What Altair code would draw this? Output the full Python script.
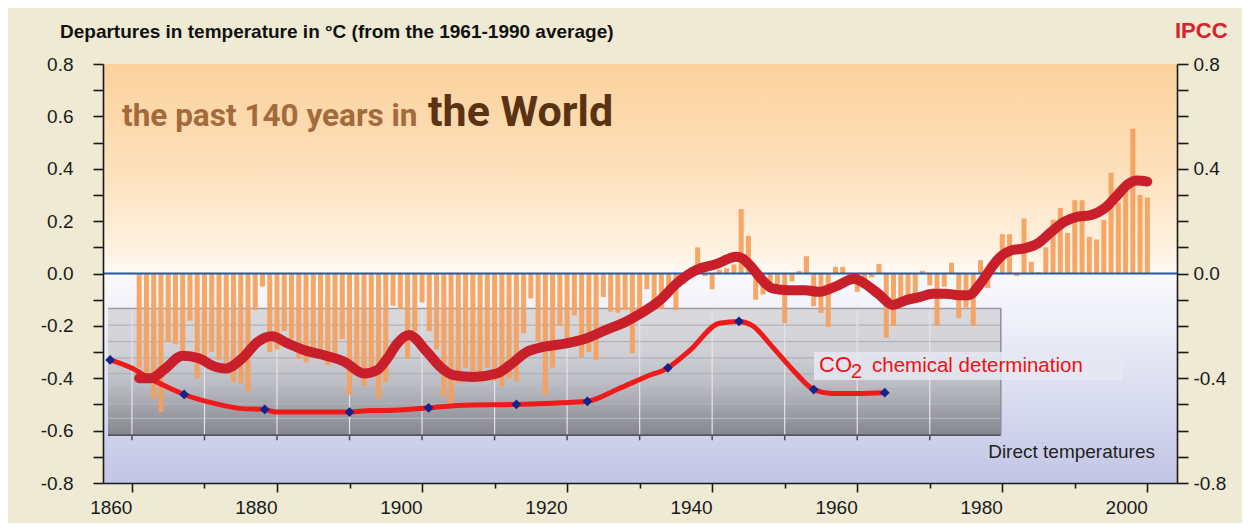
import altair as alt
import pandas as pd

# ---------------- values ----------------
years = list(range(1861, 2001))
anomaly = [
    -0.36, -0.40, -0.478, -0.53, -0.26, -0.27, -0.31, -0.18, -0.40, -0.325,
    -0.30, -0.33, -0.34, -0.414, -0.42, -0.45, -0.14, -0.05, -0.30, -0.29,
    -0.22, -0.25, -0.325, -0.34, -0.29, -0.29, -0.35, -0.31, -0.25, -0.465,
    -0.36, -0.43, -0.38, -0.478, -0.414, -0.123, -0.135, -0.325, -0.22, -0.11,
    -0.22, -0.29, -0.471, -0.50, -0.42, -0.36, -0.414, -0.414, -0.36, -0.41,
    -0.43, -0.40, -0.41, -0.229, -0.095, -0.26, -0.465, -0.36, -0.20, -0.25,
    -0.16, -0.32, -0.30, -0.33, -0.09, -0.145, -0.15, -0.14, -0.305, -0.15,
    -0.06, -0.14, -0.135, -0.09, -0.14, -0.04, 0.015, 0.10, -0.01, -0.06,
    0.015, 0.02, 0.035, 0.246, 0.144, -0.10, -0.08, -0.07, -0.04, -0.19,
    -0.03, 0.01, 0.066, -0.125, -0.15, -0.205, 0.025, 0.025, -0.02, -0.07,
    -0.03, -0.015, 0.036, -0.245, -0.20, -0.11, -0.09, -0.09, 0.01, -0.045,
    -0.20, -0.05, 0.041, -0.17, -0.13, -0.20, 0.051, -0.056, 0.005, 0.15,
    0.15, -0.01, 0.21, 0.045, 0.005, 0.10, 0.205, 0.25, 0.155, 0.28,
    0.28, 0.14, 0.13, 0.205, 0.385, 0.27, 0.35, 0.553, 0.30, 0.29,
]

smooth_year = [
    1861, 1862.6, 1864.5, 1867.0, 1869.2, 1871.5, 1872.9, 1875.2, 1877.4, 1879.3,
    1881.5, 1883.8, 1886.5, 1889.3, 1892.0, 1893.8, 1895.2, 1896.5, 1898.2, 1900.7,
    1902.5, 1904.3, 1907.1, 1910.3, 1912.1, 1914.4, 1916.7, 1919.9, 1922.6, 1925.3,
    1928.1, 1930.3, 1932.8, 1935.1, 1937.8, 1940.6, 1943.3, 1944.2, 1945.6, 1946.9,
    1948.3, 1950.6, 1952.8, 1954.7, 1956.9, 1959.6, 1961.0, 1962.9, 1964.9, 1966.7,
    1968.6, 1970.4, 1972.2, 1974.0, 1975.4, 1976.8, 1978.1, 1979.5, 1981.3, 1983.1,
    1984.9, 1986.8, 1988.6, 1990.4, 1992.2, 1994.1, 1995.9, 1997.2, 1998.6, 2000.0,
]
smooth_value = [
    -0.40, -0.40, -0.365, -0.314, -0.324, -0.356, -0.363, -0.324, -0.26, -0.24,
    -0.267, -0.293, -0.312, -0.337, -0.382, -0.369, -0.325, -0.27, -0.235, -0.30,
    -0.356, -0.388, -0.395, -0.382, -0.35, -0.30, -0.28, -0.267, -0.248, -0.216,
    -0.184, -0.15, -0.102, -0.038, 0.013, 0.036, 0.064, 0.057, 0.019, -0.025,
    -0.057, -0.064, -0.064, -0.07, -0.051, -0.02, -0.038, -0.077, -0.12, -0.102,
    -0.09, -0.077, -0.077, -0.083, -0.083, -0.045, 0.006, 0.057, 0.089, 0.096,
    0.115, 0.16, 0.198, 0.217, 0.223, 0.249, 0.30, 0.338, 0.355, 0.351,
]

co2_year = [
    1857.0, 1860.1, 1862.4, 1864.6, 1867.2, 1871.5, 1875.2, 1878.3, 1879.7, 1885.0,
    1890.0, 1892.9, 1895.2, 1900.9, 1905.7, 1913.0, 1918.0, 1922.8, 1927.1, 1930.8,
    1933.9, 1936.9, 1941.0, 1943.7, 1945.5, 1948.3, 1951.2, 1954.0, 1956.5, 1960.0,
    1963.8,
]
co2_value = [
    -0.33, -0.363, -0.40, -0.43, -0.462, -0.497, -0.516, -0.519, -0.529, -0.529,
    -0.529, -0.523, -0.523, -0.513, -0.503, -0.50, -0.495, -0.488, -0.44, -0.395,
    -0.36, -0.294, -0.19, -0.183, -0.198, -0.28, -0.37, -0.443, -0.458, -0.458,
    -0.455,
]
marker_year = [1857.0, 1867.2, 1878.3, 1890.0, 1900.9, 1913.0, 1922.8, 1933.9, 1943.7, 1954.0, 1963.8]
marker_value = [-0.33, -0.462, -0.519, -0.529, -0.513, -0.50, -0.488, -0.36, -0.183, -0.443, -0.455]

x_ticks = [1860, 1870, 1880, 1890, 1900, 1910, 1920, 1930, 1940, 1950, 1960, 1970, 1980, 1990, 2000]
y_ticks = [-0.8, -0.7, -0.6, -0.5, -0.4, -0.3, -0.2, -0.1, 0.0, 0.1, 0.2, 0.3, 0.4, 0.5, 0.6, 0.7, 0.8]

box_x = [1856.7, 1979.8]
box_y = [-0.134, -0.617]
box_grid = [-0.197, -0.26, -0.322, -0.382, -0.44, -0.497, -0.553]
box_decades = [1860, 1870, 1880, 1890, 1900, 1910, 1920, 1930, 1940, 1950, 1960, 1970]

title_text = "Departures in temperature in \u00b0C (from the 1961-1990 average)"

# ---------------- styling ----------------
W, H = 1074, 419
FONT = "Liberation Sans, Arial, Helvetica, sans-serif"
HEAD = "Roboto, Liberation Sans, sans-serif"
INK = "#1a1a1a"

xs = alt.Scale(domain=[1856.7, 2003.4], nice=False, zero=False)
ys = alt.Scale(domain=[-0.8, 0.8], nice=False, zero=False)

fmt = "replace(format(datum.value, '.1f'), '\u2212', '-')"

x_axis = alt.Axis(
    values=x_ticks,
    labelExpr="datum.value % 20 == 0 ? '' + datum.value : ''",
    tickSize={"condition": {"test": "datum.value % 20 == 0", "value": 9}, "value": 5},
    labelAlign="right", labelBaseline="top", labelPadding=6,
    labelFlush=False, labelOverlap=False,
    labelFont=FONT, labelFontSize=19, labelColor=INK,
    domainColor=INK, domainWidth=1.6, tickColor=INK, tickWidth=1.6,
    grid=False, title=None, zindex=2,
)
y_left = alt.Axis(
    orient="left", values=y_ticks,
    labelExpr=f"abs(round(datum.value*10)) % 2 == 0 ? {fmt} : ''",
    tickSize=10, labelPadding=20, labelOverlap=False, labelFlush=False,
    labelFont=FONT, labelFontSize=19, labelColor=INK,
    domainColor=INK, domainWidth=1.6, tickColor=INK, tickWidth=1.6,
    grid=False, title=None, zindex=2,
)
y_right = alt.Axis(
    orient="right", values=y_ticks,
    labelExpr=f"abs(round(datum.value*10)) % 4 == 0 ? {fmt} : ''",
    tickSize=11, labelPadding=5, labelOverlap=False, labelFlush=False,
    labelFont=FONT, labelFontSize=19, labelColor=INK,
    domainColor=INK, domainWidth=1.6, tickColor=INK, tickWidth=1.6,
    grid=False, title=None, zindex=2,
)


def X(field):
    return alt.X(field, scale=xs, axis=x_axis)


def Y(field):
    return alt.Y(field, scale=ys, axis=y_left)


one = pd.DataFrame({"k": [0]})

plot_bg = alt.Chart(one).mark_rect(
    color={
        "gradient": "linear", "x1": 0, "x2": 0, "y1": 0, "y2": 1,
        "stops": [
            {"offset": 0.0, "color": "#fcd29d"},
            {"offset": 0.25, "color": "#fde0bb"},
            {"offset": 0.45, "color": "#fff2e2"},
            {"offset": 0.5, "color": "#fffaf5"},
            {"offset": 0.5, "color": "#fafafd"},
            {"offset": 0.62, "color": "#eeeff8"},
            {"offset": 0.8, "color": "#d9dbf0"},
            {"offset": 1.0, "color": "#c2c5e5"},
        ],
    }
).encode(x=alt.value(0), x2=alt.value("width"), y=alt.value(0), y2=alt.value("height"))

box_df = pd.DataFrame({"x0": [box_x[0]], "x1": [box_x[1]], "y0": [box_y[0]], "y1": [box_y[1]]})
gray_box = alt.Chart(box_df).mark_rect(
    color={
        "gradient": "linear", "x1": 0, "x2": 0, "y1": 0, "y2": 1,
        "stops": [
            {"offset": 0.0, "color": "#dadade"},
            {"offset": 0.35, "color": "#cfd0d5"},
            {"offset": 0.62, "color": "#babbc2"},
            {"offset": 0.82, "color": "#9c9da5"},
            {"offset": 1.0, "color": "#85868f"},
        ],
    }
).encode(x=X("x0:Q"), x2="x1:Q", y=Y("y0:Q"), y2="y1:Q")

hgrid_df = pd.DataFrame({"g": box_grid, "x0": box_x[0], "x1": box_x[1]})
hgrid = alt.Chart(hgrid_df).mark_rule(color="#b1b2b8", strokeWidth=1.2).encode(
    x=X("x0:Q"), x2="x1:Q", y=Y("g:Q")
)
vgrid_df = pd.DataFrame({"d": box_decades, "y0": box_y[0], "y1": box_y[1], "y2": -0.637})
vgrid = alt.Chart(vgrid_df).mark_rule(color="#e4e4e8", strokeWidth=1.2).encode(
    x=X("d:Q"), y=Y("y0:Q"), y2="y1:Q"
)
box_ticks = alt.Chart(vgrid_df).mark_rule(color="#4a4c55", strokeWidth=1.5).encode(
    x=X("d:Q"), y=Y("y1:Q"), y2="y2:Q"
)
box_top = alt.Chart(box_df).mark_rule(color="#9c9ca2", strokeWidth=1.5).encode(
    x=X("x0:Q"), x2="x1:Q", y=Y("y0:Q")
)
box_bottom = alt.Chart(box_df).mark_rule(color="#55575f", strokeWidth=1.6).encode(
    x=X("x0:Q"), x2="x1:Q", y=Y("y1:Q")
)
box_right = alt.Chart(box_df).mark_rule(color="#8e8f96", strokeWidth=1.5).encode(
    x=X("x1:Q"), y=Y("y0:Q"), y2="y1:Q"
)

bar_df = pd.DataFrame({"year": years, "anomaly": anomaly})
bars = alt.Chart(bar_df).mark_bar(size=5, color="#f59f5b", opacity=0.92, orient="vertical").encode(
    x=X("year:Q"), y=Y("anomaly:Q"), y2=alt.datum(0),
)

zero_line = alt.Chart(pd.DataFrame({"z": [0.0]})).mark_rule(color="#2457a8", strokeWidth=2.2).encode(
    y=Y("z:Q")
)

label_box = alt.Chart(one).mark_rect(color="#e6e7f2", opacity=0.85).encode(
    x=alt.value(711), x2=alt.value(1019), y=alt.value(288), y2=alt.value(316)
)

co2_df = pd.DataFrame({"year": co2_year, "value": co2_value})
co2_line = alt.Chart(co2_df).mark_line(color="#ef1a1a", strokeWidth=5, interpolate="monotone").encode(
    x=X("year:Q"), y=Y("value:Q")
)
mk_df = pd.DataFrame({"year": marker_year, "value": marker_value})
markers = alt.Chart(mk_df).mark_point(shape="diamond", filled=True, size=95, color="#14238c", opacity=1).encode(
    x=X("year:Q"), y=Y("value:Q")
)

sm_df = pd.DataFrame({"year": smooth_year, "value": smooth_value})
smooth = alt.Chart(sm_df).mark_line(
    color="#c91f2b", strokeWidth=10, interpolate="monotone", strokeCap="round", strokeJoin="round"
).encode(x=X("year:Q"), y=Y("value:Q"))


def label(text, x, y, size, color, weight="normal", font=FONT, align="left", baseline="alphabetic"):
    return alt.Chart(pd.DataFrame({"t": [text]})).mark_text(
        align=align, baseline=baseline, font=font, fontSize=size, fontWeight=weight, color=color
    ).encode(text="t:N", x=alt.value(x), y=alt.value(y))


texts = [
    label(title_text, -43, -32, 19, "#111111", "bold", baseline="middle"),
    label("IPCC", 1072, -33, 22, "#d9232a", "bold", baseline="middle"),
    label("the past 140 years in", 19, 62, 31.5, "#a46a3b", "bold", font=HEAD),
    label("the World", 325, 62, 43, "#5a3214", "bold", font=HEAD),
    label("Direct temperatures", 1052, 394, 19, "#222222", align="right"),
    label("CO", 716, 308, 22, "#ee1111"),
    label("2", 748, 314, 20, "#ee1111"),
    label("chemical determination", 769, 308, 20.5, "#ee1111"),
]

main = alt.layer(
    plot_bg, gray_box, hgrid, vgrid, box_ticks, box_top, box_bottom, box_right,
    bars, zero_line, label_box, co2_line, markers, smooth, *texts
)

right_axis = alt.Chart(pd.DataFrame({"r": [0.0]})).mark_point(opacity=0).encode(
    y=alt.Y("r:Q", scale=ys, axis=y_right)
)

chart = (
    alt.layer(main, right_axis)
    .resolve_axis(y="independent")
    .properties(
        width=W, height=H,
        autosize=alt.AutoSizeParams(type="none"),
        padding={"left": 95, "top": 56, "right": 65, "bottom": 40},
        background="#eeead4",
    )
    .configure_view(strokeWidth=0)
)

chart.save("out.html", embed_options={"renderer": "svg", "actions": False})
